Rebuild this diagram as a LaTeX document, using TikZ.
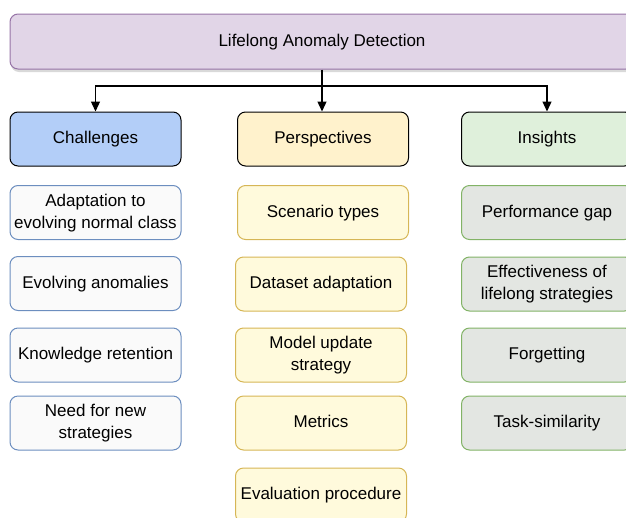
\documentclass[tikz,border=0pt]{standalone}
\usepackage{fontspec}
\setmainfont{Liberation Sans}
\usetikzlibrary{arrows.meta,shadows}

\definecolor{rootfill}{HTML}{E1D5E7}
\definecolor{rootline}{HTML}{9673A6}
\definecolor{chalfill}{HTML}{B3CEF8}
\definecolor{persfill}{HTML}{FFF2CC}
\definecolor{insfill}{HTML}{DFF0DB}
\definecolor{chalitem}{HTML}{FAFAFA}
\definecolor{challine}{HTML}{6C8EBF}
\definecolor{persitem}{HTML}{FFFADC}
\definecolor{persline}{HTML}{D6B656}
\definecolor{insitem}{HTML}{E3E6E2}
\definecolor{insline}{HTML}{82B366}

\begin{document}
\begin{tikzpicture}[x=1pt,y=-1pt,
	font=\fontsize{17}{22}\selectfont,
	box/.style={rectangle,rounded corners=8pt,minimum width=171pt,minimum height=54pt,align=center,inner sep=2pt,text depth=0.5ex},
	head/.style={box,draw=black,line width=1pt},
	chalbox/.style={box,draw=challine,fill=chalitem,line width=1pt},
	persbox/.style={box,draw=persline,fill=persitem,line width=1pt},
	insbox/.style={box,draw=insline,fill=insitem,line width=1pt},
	link/.style={line width=1.3pt,-{Triangle[width=9pt,length=10pt]}}]
		
		\useasboundingbox (0,0) rectangle (626,517);
		\clip (0,0) rectangle (626,517);
		
		%root
		\node[box,draw=rootline,fill=rootfill,line width=1pt,minimum width=624pt,minimum height=55pt,
			drop shadow={shadow xshift=1pt,shadow yshift=-3pt,opacity=0.3}](root) at (322,41.5) {Lifelong Anomaly Detection};
		
		%heads
		\node[head,fill=chalfill](chal) at (95.5,139) {Challenges};
		\node[head,fill=persfill](pers) at (323,139) {Perspectives};
		\node[head,fill=insfill](ins) at (547,139) {Insights};
		
		%challenges
		\node[chalbox](c1) at (95.5,212.5) {Adaptation to\\evolving normal class};
		\node[chalbox](c2) at (95.5,283.5) {Evolving anomalies};
		\node[chalbox](c3) at (95.5,355) {Knowledge retention};
		\node[chalbox](c4) at (95.5,423) {Need for new\\strategies};
		
		%perspectives
		\node[persbox](p1) at (323,212.5) {Scenario types};
		\node[persbox](p2) at (321,284) {Dataset adaptation};
		\node[persbox](p3) at (321,355) {Model update\\strategy};
		\node[persbox](p4) at (321,423) {Metrics};
		\node[persbox](p5) at (321,495) {Evaluation procedure};
		
		%insights
		\node[insbox](i1) at (547,212.5) {Performance gap};
		\node[insbox](i2) at (547,284) {Effectiveness of\\lifelong strategies};
		\node[insbox](i3) at (547,355) {Forgetting};
		\node[insbox](i4) at (547,423) {Task-similarity};
		
		%arrows
		\coordinate (split) at (322,86);
		\draw[link] (root.south -| split) -- (split) -- (pers.north -| split);
		\draw[link] (split) -| (chal.north);
		\draw[link] (split) -| (ins.north);
		\end{tikzpicture}
\end{document}
